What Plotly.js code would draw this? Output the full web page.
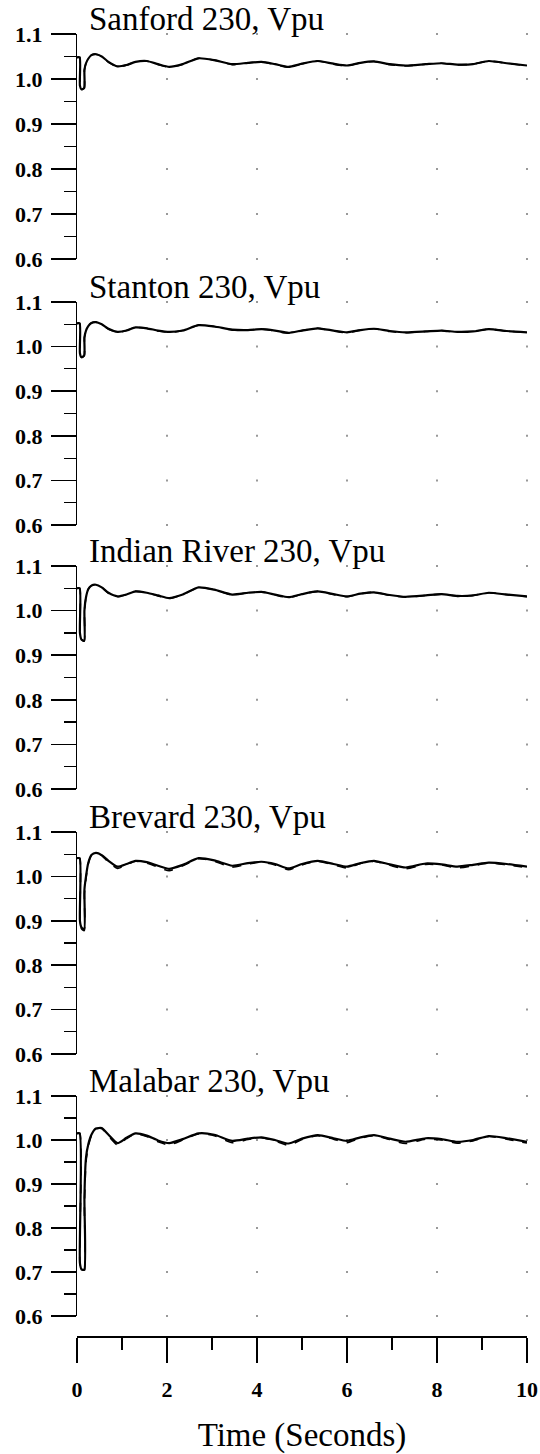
<!DOCTYPE html>
<html><head><meta charset="utf-8">
<script src="https://cdn.plot.ly/plotly-3.0.1.min.js"></script>
<style>html,body{margin:0;padding:0;background:#fff}#chart{width:540px;height:1454px}</style>
</head><body><div id="chart"></div>
<script>
// ---- data ----
const time = [0, 0.06, 0.065, 0.1, 0.16, 0.165, 0.2, 0.25, 0.32, 0.42, 0.55, 0.7, 0.9, 1.1, 1.3, 1.55, 1.8, 2.05, 2.35, 2.7, 3.05, 3.45, 3.8, 4.1, 4.4, 4.7, 5.0, 5.35, 5.7, 6.0, 6.3, 6.6, 6.95, 7.3, 7.75, 8.1, 8.45, 8.8, 9.15, 9.55, 10];

const panelTitles = ['Sanford 230, Vpu', 'Stanton 230, Vpu', 'Indian River 230, Vpu', 'Brevard 230, Vpu', 'Malabar 230, Vpu'];

const sanfordSolid = [1.048,1.048,0.985,0.977,0.980,1.020,1.035,1.045,1.053,1.055,1.050,1.038,1.028,1.031,1.038,1.040,1.033,1.027,1.033,1.046,1.042,1.033,1.036,1.038,1.033,1.027,1.034,1.040,1.034,1.030,1.036,1.039,1.033,1.030,1.033,1.035,1.032,1.033,1.040,1.035,1.030];
const sanfordDashed = [1.048,1.048,0.985,0.977,0.980,1.020,1.035,1.045,1.053,1.055,1.050,1.037,1.027,1.031,1.038,1.040,1.032,1.026,1.033,1.046,1.042,1.032,1.036,1.038,1.032,1.026,1.034,1.040,1.033,1.029,1.036,1.039,1.032,1.029,1.033,1.035,1.031,1.033,1.040,1.035,1.029];

const stantonSolid = [1.052,1.052,0.985,0.976,0.980,1.020,1.036,1.046,1.053,1.055,1.050,1.040,1.033,1.036,1.043,1.041,1.036,1.033,1.036,1.048,1.045,1.038,1.037,1.039,1.036,1.031,1.036,1.041,1.036,1.032,1.037,1.040,1.035,1.032,1.034,1.036,1.033,1.034,1.039,1.035,1.032];
const stantonDashed = [1.052,1.052,0.985,0.976,0.980,1.020,1.036,1.046,1.053,1.055,1.050,1.039,1.032,1.036,1.043,1.041,1.035,1.032,1.036,1.048,1.045,1.037,1.037,1.039,1.035,1.030,1.036,1.041,1.035,1.031,1.037,1.040,1.034,1.031,1.034,1.036,1.032,1.034,1.039,1.035,1.031];

const indianRiverSolid = [1.050,1.050,0.950,0.935,0.932,1.000,1.030,1.048,1.056,1.058,1.052,1.040,1.032,1.036,1.043,1.040,1.034,1.028,1.036,1.052,1.047,1.036,1.040,1.042,1.036,1.030,1.037,1.043,1.037,1.032,1.038,1.041,1.035,1.031,1.034,1.037,1.033,1.034,1.040,1.036,1.032];
const indianRiverDashed = [1.050,1.050,0.950,0.935,0.932,1.000,1.030,1.048,1.056,1.058,1.052,1.039,1.031,1.036,1.043,1.040,1.033,1.027,1.036,1.052,1.047,1.035,1.040,1.042,1.035,1.029,1.037,1.043,1.036,1.031,1.038,1.041,1.034,1.030,1.034,1.037,1.032,1.034,1.040,1.036,1.031];

const brevardSolid = [1.041,1.041,0.900,0.885,0.881,0.970,1.000,1.030,1.048,1.053,1.048,1.035,1.022,1.028,1.035,1.032,1.024,1.017,1.026,1.041,1.036,1.024,1.030,1.033,1.028,1.018,1.028,1.035,1.028,1.022,1.030,1.035,1.027,1.020,1.029,1.027,1.022,1.026,1.031,1.028,1.022];
const brevardDashed = [1.041,1.041,0.898,0.882,0.878,0.960,0.995,1.028,1.047,1.052,1.047,1.032,1.018,1.026,1.034,1.030,1.021,1.013,1.024,1.040,1.034,1.021,1.028,1.032,1.026,1.015,1.026,1.034,1.026,1.019,1.029,1.034,1.025,1.017,1.027,1.026,1.019,1.024,1.030,1.026,1.020];

const malabarSolid = [1.015,1.015,0.720,0.706,0.705,0.870,0.960,0.990,1.012,1.026,1.027,1.012,0.993,1.005,1.015,1.010,0.999,0.993,1.002,1.015,1.012,0.998,1.003,1.006,1.000,0.992,1.003,1.011,1.004,0.998,1.006,1.011,1.003,0.996,1.004,1.002,0.996,1.000,1.009,1.004,0.996];
const malabarDashed = [1.015,1.015,0.718,0.703,0.702,0.850,0.950,0.985,1.010,1.025,1.026,1.009,0.989,1.003,1.014,1.008,0.996,0.989,1.000,1.014,1.010,0.994,1.001,1.005,0.998,0.988,1.001,1.010,1.002,0.994,1.004,1.010,1.001,0.992,1.002,1.000,0.993,0.998,1.008,1.002,0.993];

const xMajorTicks = [0, 2, 4, 6, 8, 10];
const yMajorTicks = [0.6, 0.7, 0.8, 0.9, 1.0, 1.1];
const gridDotX = [2, 4, 6, 8, 10];

// ---- geometry ----
const W = 540, H = 1454;
const panelTopPx = [34, 302, 566, 832, 1096];
const panelBotPx = [259, 525, 789, 1054, 1316];
const xAxisPx = 1336;
const solidSeries = [sanfordSolid, stantonSolid, indianRiverSolid, brevardSolid, malabarSolid];
const dashedSeries = [sanfordDashed, stantonDashed, indianRiverDashed, brevardDashed, malabarDashed];

const serif = 'Liberation Serif, Times New Roman, serif';
const traces = [];
const layout = {
  width: W, height: H,
  margin: {l: 77, r: 13, t: 0, b: 0},
  paper_bgcolor: '#fff', plot_bgcolor: '#fff',
  showlegend: false,
  font: {family: serif, color: '#000'},
  xaxis: {
    range: [0, 10], anchor: 'free', position: 1 - xAxisPx / H,
    showline: true, linecolor: '#000', linewidth: 1.5,
    tickmode: 'array', tickvals: xMajorTicks,
    ticks: 'outside', ticklen: 25, tickwidth: 1.5, tickcolor: '#000',
    minor: {dtick: 1, tick0: 0, ticks: 'outside', ticklen: 12, tickwidth: 1.2, tickcolor: '#000', showgrid: false},
    tickfont: {family: serif, size: 22, weight: 'bold', color: '#000'},
    ticklabelstandoff: 8,
    showgrid: false, zeroline: false, automargin: false,
    title: {text: 'Time (Seconds)', font: {family: serif, size: 33, color: '#000'}, standoff: 34}
  },
  annotations: []
};

for (let k = 0; k < 5; k++) {
  const yid = k === 0 ? 'y' : 'y' + (k + 1);
  const ykey = k === 0 ? 'yaxis' : 'yaxis' + (k + 1);
  layout[ykey] = {
    domain: [1 - panelBotPx[k] / H, 1 - panelTopPx[k] / H],
    range: [0.6, 1.1], anchor: 'x',
    showline: true, linecolor: '#000', linewidth: 1.2,
    tickmode: 'array', tickvals: yMajorTicks, tickformat: '.1f',
    ticks: 'outside', ticklen: 25, tickwidth: 1.5, tickcolor: '#000',
    minor: {dtick: 0.05, tick0: 0.6, ticks: 'outside', ticklen: 12, tickwidth: 1.2, tickcolor: '#000', showgrid: false},
    tickfont: {family: serif, size: 22, weight: 'bold', color: '#000'},
    ticklabelstandoff: 4,
    showgrid: false, zeroline: false, automargin: false
  };
  // grid dots at intersections
  const gx = [], gy = [];
  gridDotX.forEach(x => yMajorTicks.forEach(y => { gx.push(x); gy.push(y); }));
  traces.push({x: gx, y: gy, xaxis: 'x', yaxis: yid, mode: 'markers', type: 'scatter',
    marker: {size: 2, color: '#999', symbol: 'square'}, cliponaxis: false, hoverinfo: 'skip'});
  traces.push({x: time, y: dashedSeries[k], xaxis: 'x', yaxis: yid, mode: 'lines', type: 'scatter',
    line: {color: '#000', width: 1.6, dash: 'dash', shape: 'spline', smoothing: 0.6}, cliponaxis: false});
  traces.push({x: time, y: solidSeries[k], xaxis: 'x', yaxis: yid, mode: 'lines', type: 'scatter',
    line: {color: '#000', width: 2.2, shape: 'spline', smoothing: 0.6}, cliponaxis: false});
  layout.annotations.push({
    text: panelTitles[k], xref: 'paper', x: 11 / 450, xanchor: 'left',
    yref: yid + ' domain', y: 1, yanchor: 'bottom', yshift: -4,
    showarrow: false, borderpad: 0,
    font: {family: serif, size: 33, color: '#000'}
  });
}

Plotly.newPlot('chart', traces, layout, {staticPlot: true, displayModeBar: false});
</script>
</body></html>
